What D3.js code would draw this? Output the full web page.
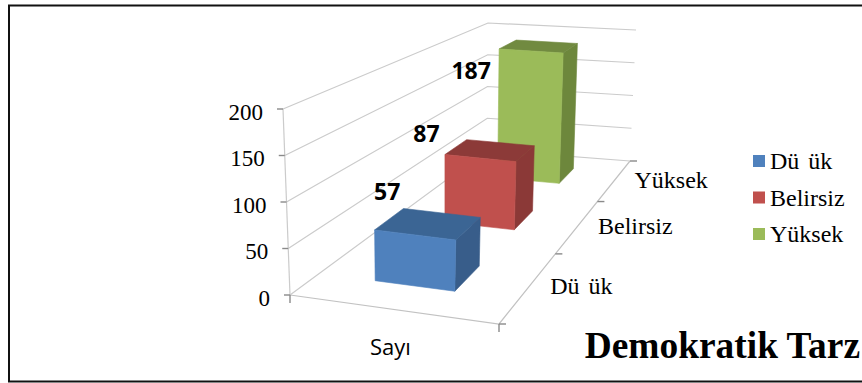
<!DOCTYPE html>
<html>
<head>
<meta charset="utf-8">
<script src="https://cdn.jsdelivr.net/npm/d3@7/dist/d3.min.js"></script>
<style>
html,body{margin:0;padding:0;background:#fff}
svg{display:block}
text{white-space:pre}
</style>
</head>
<body>
<div id="chart"></div>
<script>
const categories = ["Dü  ük", "Belirsiz", "Yüksek"];
const values = [57, 87, 187];
const xCategories = ["Sayı"];
const valueTicks = [0, 50, 100, 150, 200];
const title = "Demokratik Tarz";

const W = 862, H = 383;
const serif = "'Liberation Serif','Times New Roman',serif";
const sans = "'Open Sans','Noto Sans',sans-serif";
const faces = [
  {front:"#4f81bd", top:"#3b6594", side:"#385d8a"},
  {front:"#c0504d", top:"#8c3a38", side:"#8b3937"},
  {front:"#9bbb59", top:"#718a40", side:"#6d873c"}
];
const labelOffset = [[-28,-44],[-54,-25],[-60,19]];
const depthLabelShift = [-3,2.5,1.5];

// Projected box: floor corners and the vertical reach of the 200 level
const floor = {fl:[290,295], fr:[499,324], bl:[487,150], br:[630,161]};
const reach = {fl:[-7,-186], fr:[8,-190], bl:[1,-127], br:[6,-131]};
const bilerp = (c,x,d,i) => {
  const front = c.fl[i] + (c.fr[i]-c.fl[i])*x;
  const back  = c.bl[i] + (c.br[i]-c.bl[i])*x;
  return front + (back-front)*d;
};
const vScale = d3.scaleLinear().domain([0,200]).range([0,1]);
// depth foreshortening: even category steps crowd towards the back wall
const depth = u => 1.51*u/(1+0.51*u);
const project = (x,u,v) => {
  const d = depth(u), f = vScale(v);
  return [bilerp(floor,x,d,0)+f*bilerp(reach,x,d,0),
          bilerp(floor,x,d,1)+f*bilerp(reach,x,d,1)];
};
const xBand = d3.scaleBand().domain(xCategories).range([-0.02,0.98]).paddingOuter(0.75);
const zBand = d3.scaleBand().domain(categories).range([0,1]).paddingInner(0.625).paddingOuter(0.3125);

const svg = d3.select("#chart").append("svg").attr("width",W).attr("height",H);
svg.append("rect").attr("width",W).attr("height",H).attr("fill","#fff");

// frame
svg.append("path").attr("d",`M${W},5.5H9V381.5H${W}`).attr("fill","none").attr("stroke","#111").attr("stroke-width",2);

const line = d3.line();
const gridG = svg.append("g").attr("fill","none").attr("stroke","#cbcbcb").attr("stroke-width",1.2);
valueTicks.forEach(v=>{
  gridG.append("path").attr("d",line([project(0,0,v),project(0,1,v),project(1,1,v)]));
});
gridG.append("path").attr("d",line([project(0,0,0),project(0,0,200)]));
gridG.append("path").attr("d",line([project(0,0,0),project(1,0,0),project(1,1,0)])).attr("stroke","#c2c2c2");

// ticks
const tickG = svg.append("g").attr("fill","none").attr("stroke","#8a8a8a").attr("stroke-width",1.4);
valueTicks.forEach(v=>{
  const p = project(0,0,v);
  tickG.append("path").attr("d",line([p,[p[0]-6,p[1]]]));
});
[0,1].forEach(x=>{
  const p = project(x,0,0);
  tickG.append("path").attr("d",line([p,[p[0],p[1]+8]]));
});
[0,1/3,2/3,1].forEach(u=>{
  const p = project(1,u,0);
  tickG.append("path").attr("d",line([p,[p[0]+7,p[1]]]));
});

// bars, back to front
const x0 = xBand(xCategories[0]), x1 = x0 + xBand.bandwidth();
const order = d3.range(values.length).reverse();
const barG = svg.append("g");
order.forEach(i=>{
  const z0 = zBand(categories[i]), z1 = z0 + zBand.bandwidth(), v = values[i], c = faces[i];
  const P = (x,u,val) => project(x,u,val);
  const poly = (pts,fill)=> barG.append("path").attr("d",line(pts)+"Z").attr("fill",fill).attr("stroke",fill).attr("stroke-width",0.6);
  poly([P(x1,z0,0),P(x1,z1,0),P(x1,z1,v),P(x1,z0,v)],c.side);
  poly([P(x0,z0,v),P(x1,z0,v),P(x1,z1,v),P(x0,z1,v)],c.top);
  poly([P(x0,z0,0),P(x1,z0,0),P(x1,z0,v),P(x0,z0,v)],c.front);
});

// value labels
const lab = svg.append("g").attr("fill","#000");
values.forEach((v,i)=>{
  const z0 = zBand(categories[i]);
  const p = project((x0+x1)/2,z0,v);
  lab.append("text").attr("x",p[0]+labelOffset[i][0]).attr("y",p[1]+labelOffset[i][1])
    .attr("text-anchor","middle").attr("dominant-baseline","central")
    .attr("font-family",sans).attr("font-weight",700).attr("font-size",23).text(v);
});

// value axis labels
valueTicks.forEach(v=>{
  const p = project(0,0,v);
  lab.append("text").attr("x",p[0]-20).attr("y",p[1]+10.5).attr("text-anchor","end")
    .attr("font-family",serif).attr("font-size",23).text(v);
});

// depth axis labels
categories.forEach((cat,i)=>{
  const p = project(1,zBand(cat)+zBand.bandwidth()/2,0);
  lab.append("text").attr("x",p[0]+55+depthLabelShift[i]).attr("y",p[1]+8).attr("text-anchor","middle")
    .attr("font-family",serif).attr("font-size",24).style("word-spacing","-1.5px").text(cat);
});

// front axis label
xCategories.forEach(cat=>{
  const p = project(xBand(cat)+xBand.bandwidth()/2,0,0);
  lab.append("text").attr("x",p[0]).attr("y",p[1]+46).attr("text-anchor","middle")
    .attr("font-family",sans).attr("font-size",22).text(cat);
});

// legend
const legendY = d3.scalePoint().domain(categories).range([161,234]);
categories.forEach((cat,i)=>{
  const y = legendY(cat);
  svg.append("rect").attr("x",753).attr("y",y-6).attr("width",12).attr("height",12).attr("fill",faces[i].front);
  lab.append("text").attr("x",770).attr("y",y+8).attr("font-family",serif).attr("font-size",24).style("word-spacing","-1.5px").text(cat);
});

// title
lab.append("text").attr("x",860).attr("y",358).attr("text-anchor","end")
  .attr("font-family",serif).attr("font-weight",700).attr("font-size",37.4).text(title);
</script>
</body>
</html>
